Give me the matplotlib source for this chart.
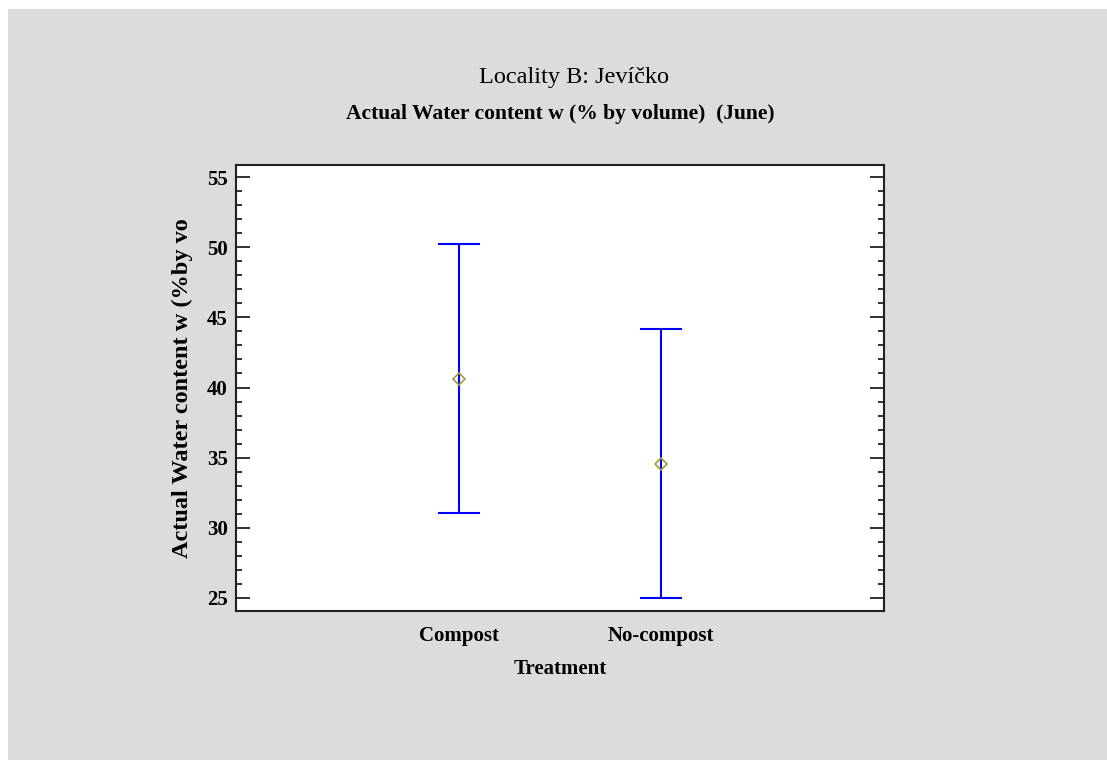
import matplotlib
matplotlib.use("Agg")
import matplotlib.pyplot as plt
from matplotlib.patches import Rectangle
from matplotlib.ticker import MultipleLocator

categories = ["Compost", "No-compost"]
means = [40.6, 34.55]
upper = [50.22, 44.17]
lower = [31.05, 25.0]
title = "Locality B: Jevíčko"
subtitle = "Actual Water content w (% by volume)  (June)"
xlabel = "Treatment"
ylabel = "Actual Water content w (%by vo"

fig = plt.figure(figsize=(11.07, 7.6), dpi=100, facecolor="white")
fig.patches.append(Rectangle((8/1107, 0), 1 - 8/1107, (760-9)/760,
                             transform=fig.transFigure, facecolor="#dcdcdc",
                             edgecolor="none", zorder=-10))

L, R, T, B = 236, 884, 165, 611
ax = fig.add_axes([L/1107, 1 - B/760, (R-L)/1107, (B-T)/760])
ax.set_facecolor("white")

xs = list(range(len(categories)))
yerr = [[m - lo for m, lo in zip(means, lower)], [u - m for m, u in zip(means, upper)]]
ax.errorbar(xs, means, yerr=yerr, fmt="none", ecolor="#0000ff", elinewidth=1.5,
            capsize=14.8, capthick=1.5, zorder=2)
ax.plot(xs, means, linestyle="none", marker="D", markersize=6.5, markerfacecolor="none",
        markeredgecolor="#a89a3a", markeredgewidth=1.2, zorder=3)

ax.set_xlim(-1.1, 2.1)
ax.set_ylim(24.07, 55.86)
ax.set_xticks(xs)
ax.set_xticklabels(categories)
ax.yaxis.set_major_locator(MultipleLocator(5))
ax.yaxis.set_minor_locator(MultipleLocator(1))
ax.tick_params(axis="x", length=0, pad=11)
ax.tick_params(axis="y", which="major", direction="in", length=10, width=1.3,
               left=True, right=True, color="#202020", pad=6)
ax.tick_params(axis="y", which="minor", direction="in", length=4.5, width=1.3,
               left=True, right=True, color="#202020")
for lab in ax.get_xticklabels() + ax.get_yticklabels():
    lab.set_fontfamily("Liberation Serif")
    lab.set_fontweight("bold")
    lab.set_fontsize(15)
for s in ax.spines.values():
    s.set_color("#202020")
    s.set_linewidth(1.5)

ax.set_xlabel(xlabel, fontfamily="Liberation Serif", fontweight="bold", fontsize=15, labelpad=9)
ax.set_ylabel(ylabel, fontfamily="Liberation Serif", fontweight="bold", fontsize=17.5, labelpad=10)

fig.text(574/1107, 1 - 78/760, title, ha="center", va="center",
         fontfamily="Liberation Serif", fontsize=17.5)
fig.text(560/1107, 1 - 114/760, subtitle, ha="center", va="center",
         fontfamily="Liberation Serif", fontweight="bold", fontsize=15.5)

fig.savefig("out.png", dpi=100, facecolor=fig.get_facecolor())
